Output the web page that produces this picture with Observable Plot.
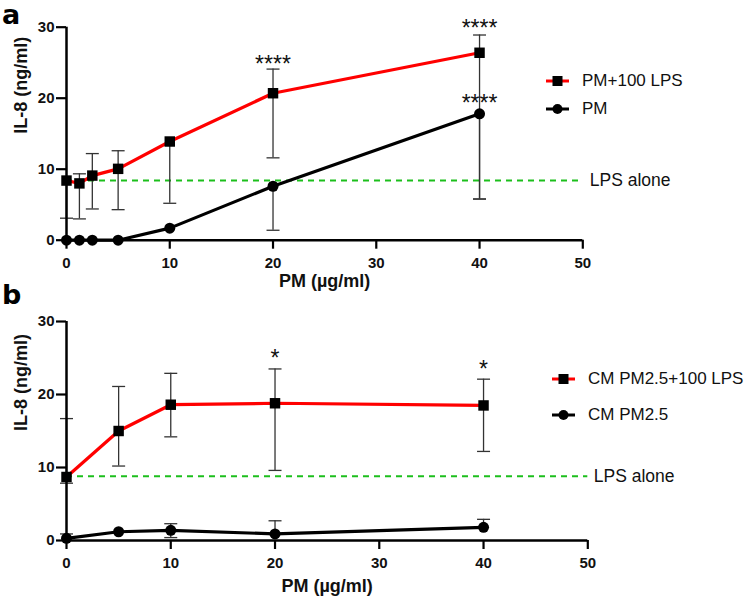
<!DOCTYPE html>
<html>
<head>
<meta charset="utf-8">
<script src="https://cdn.jsdelivr.net/npm/d3@7"></script>
<script src="https://cdn.jsdelivr.net/npm/@observablehq/plot@0.6"></script>
<style>
  body { margin: 0; background: #fff; font-family: "Liberation Sans", Arial, sans-serif; }
  #wrap { position: relative; width: 752px; height: 603px; overflow: hidden; }
  #wrap svg { display: block; }
  .panel { position: absolute; font-family: "DejaVu Sans", sans-serif; font-weight: bold; font-size: 27px; color: #000; line-height: 30px; }
  .legend { position: absolute; font-size: 17px; color: #111; }
  .legend .row { display: flex; align-items: center; }
  .legend svg { margin-right: 13px; }
</style>
</head>
<body>
<div id="wrap"></div>
<script>
// ---------- Data: panel a ----------
const aDose = [0, 1.25, 2.5, 5, 10, 20, 40];
const aLpsMean = [8.4, 8.0, 9.1, 10.05, 13.9, 20.7, 26.4];
const aLpsLow  = [3.1, 3.0, 4.4, 4.3, 5.2, 11.6, 5.8];
const aLpsHigh = [8.4, 9.35, 12.2, 12.6, 13.9, 24.1, 28.9];
const aPmMean  = [0, 0, 0, 0, 1.7, 7.6, 17.8];
const aPmLow   = [0, 0, 0, 0, 1.7, 1.4, 5.8];
const aPmHigh  = [0, 0, 0, 0, 1.7, 7.6, 17.8];
const aLpsAlone = 8.4;
// star annotations: x, y = level of the asterisks
const aStars = [{x: 20, y: 25.6, s: "****"}, {x: 40, y: 30.6, s: "****"}, {x: 40, y: 20.1, s: "****"}];
const aSeriesNames = ["PM+100 LPS", "PM"];

// ---------- Data: panel b ----------
const bDose = [0, 5, 10, 20, 40];
const bLpsMean = [8.7, 15.0, 18.6, 18.8, 18.5];
const bLpsLow  = [7.85, 10.2, 14.2, 9.6, 12.2];
const bLpsHigh = [16.7, 21.1, 22.9, 23.5, 22.1];
const bPmMean  = [0.3, 1.2, 1.4, 0.9, 1.8];
const bPmLow   = [0.3, 1.2, 0.4, 0.9, 1.8];
const bPmHigh  = [0.9, 1.2, 2.3, 2.7, 2.9];
const bLpsAlone = 8.8;
const bStars = [{x: 20, y: 25.75, s: "*"}, {x: 40, y: 24.25, s: "*"}];
const bSeriesNames = ["CM PM2.5+100 LPS", "CM PM2.5"];

const xTicks = [0, 10, 20, 30, 40, 50];
const yTicks = [0, 10, 20, 30];
const xLabel = "PM (µg/ml)";
const yLabel = "IL-8 (ng/ml)";
const lpsText = "LPS alone";

const RED = "#ff0000", BLACK = "#000000", GREEN = "#1cbf1c", ERR = "#333333";

// horizontal cap symbol for error bars
const capSymbol = { draw(ctx, size) { ctx.moveTo(-6.5, 0); ctx.lineTo(6.5, 0); } };

function rows(dose, mean, lo, hi) {
  return dose.map((x, i) => ({x, y: mean[i], lo: lo[i], hi: hi[i]}));
}

function panel(opts) {
  const red = rows(opts.dose, opts.lpsMean, opts.lpsLow, opts.lpsHigh);
  const blk = rows(opts.dose, opts.pmMean, opts.pmLow, opts.pmHigh);
  const errs = [...blk, ...red];
  return Plot.plot({
    width: 752,
    height: opts.height,
    marginLeft: 66,
    marginRight: opts.marginRight,
    marginTop: opts.marginTop,
    marginBottom: opts.marginBottom,
    style: {fontFamily: "'Liberation Sans', Arial, sans-serif", background: "white", overflow: "visible"},
    x: {domain: [0, 50]},
    y: {domain: [0, 30]},
    marks: [
      Plot.ruleY([opts.lps], {x1: 0, x2: 50, stroke: GREEN, strokeWidth: 2, strokeDasharray: "6,5"}),
      Plot.text([opts.lps], {x: 50, y: d => d, text: () => lpsText, textAnchor: "start", dx: opts.lpsDx, fontSize: 17.5, fill: "#111"}),
      // error bars
      Plot.ruleX(errs, {x: "x", y1: "lo", y2: "hi", stroke: ERR, strokeWidth: 1.3}),
      Plot.dot(errs.filter(d => d.hi > d.y), {x: "x", y: "hi", symbol: capSymbol, stroke: ERR, strokeWidth: 1.3, fill: "none", r: 3}),
      Plot.dot(errs.filter(d => d.lo < d.y), {x: "x", y: "lo", symbol: capSymbol, stroke: ERR, strokeWidth: 1.3, fill: "none", r: 3}),
      // axes frame
      Plot.ruleX([0], {y1: 0, y2: 30, stroke: "#000", strokeWidth: 2.5}),
      Plot.ruleY([0], {x1: 0, x2: 50, stroke: "#000", strokeWidth: 2.5}),
      Plot.axisX({ticks: xTicks, tickSize: 9, tickPadding: 8, strokeWidth: 2.2, fontSize: 15, fontWeight: "bold", label: null, fill: "#111"}),
      Plot.axisY({ticks: yTicks, tickSize: 10, tickPadding: 2, strokeWidth: 2.2, fontSize: 15, fontWeight: "bold", label: null, fill: "#111"}),
      // series
      Plot.line(blk, {x: "x", y: "y", stroke: BLACK, strokeWidth: 3.2}),
      Plot.line(red, {x: "x", y: "y", stroke: RED, strokeWidth: 3.2}),
      Plot.dot(blk, {x: "x", y: "y", symbol: "circle", fill: BLACK, r: 5.5}),
      Plot.dot(red, {x: "x", y: "y", symbol: "square", fill: BLACK, r: 5.9}),
      // significance stars
      Plot.text(opts.stars, {x: "x", y: "y", text: "s", dy: 6, fontSize: 23, fill: "#111"}),
      // axis titles
      Plot.text([xLabel], {frameAnchor: "bottom", dy: opts.xLabelDy, fontSize: 18, fontWeight: "bold", fill: "#111"}),
      Plot.text([yLabel], {frameAnchor: "left", rotate: -90, dx: -45, fontSize: 18, fontWeight: "bold", fill: "#111"})
    ]
  });
}

function legendHTML(names, top, left, rowH) {
  const div = document.createElement("div");
  div.className = "legend";
  div.style.top = top + "px";
  div.style.left = left + "px";
  const sw = (color, shape) => `<svg width="23" height="12" viewBox="0 0 23 12">
    <line x1="0" x2="23" y1="6" y2="6" stroke="${color}" stroke-width="3"/>
    ${shape === "square" ? '<rect x="6.5" y="1" width="10" height="10" fill="#000"/>' : '<circle cx="11.5" cy="6" r="5" fill="#000"/>'}
  </svg>`;
  div.innerHTML = `<div class="row" style="height:${rowH}px">${sw(RED, "square")}<span>${names[0]}</span></div>
                   <div class="row" style="height:${rowH}px">${sw(BLACK, "circle")}<span>${names[1]}</span></div>`;
  return div;
}

const wrap = document.getElementById("wrap");
const pa = panel({dose: aDose, lpsMean: aLpsMean, lpsLow: aLpsLow, lpsHigh: aLpsHigh,
  pmMean: aPmMean, pmLow: aPmLow, pmHigh: aPmHigh, lps: aLpsAlone, stars: aStars,
  height: 300, marginTop: 26.7, marginBottom: 60.3, marginRight: 169.7, lpsDx: 7, xLabelDy: 47});
const pb = panel({dose: bDose, lpsMean: bLpsMean, lpsLow: bLpsLow, lpsHigh: bLpsHigh,
  pmMean: bPmMean, pmLow: bPmLow, pmHigh: bPmHigh, lps: bLpsAlone, stars: bStars,
  height: 303, marginTop: 21, marginBottom: 63, marginRight: 164.7, lpsDx: 6, xLabelDy: 51});
wrap.appendChild(pa);
wrap.appendChild(pb);

const la = document.createElement("div"); la.className = "panel"; la.textContent = "a";
la.style.left = "2px"; la.style.top = "0px"; wrap.appendChild(la);
const lb = document.createElement("div"); lb.className = "panel"; lb.textContent = "b";
lb.style.left = "2px"; lb.style.top = "280px"; wrap.appendChild(lb);

wrap.appendChild(legendHTML(aSeriesNames, 66.4, 546, 28.6));
wrap.appendChild(legendHTML(bSeriesNames, 361, 552, 36));
</script>
</body>
</html>
